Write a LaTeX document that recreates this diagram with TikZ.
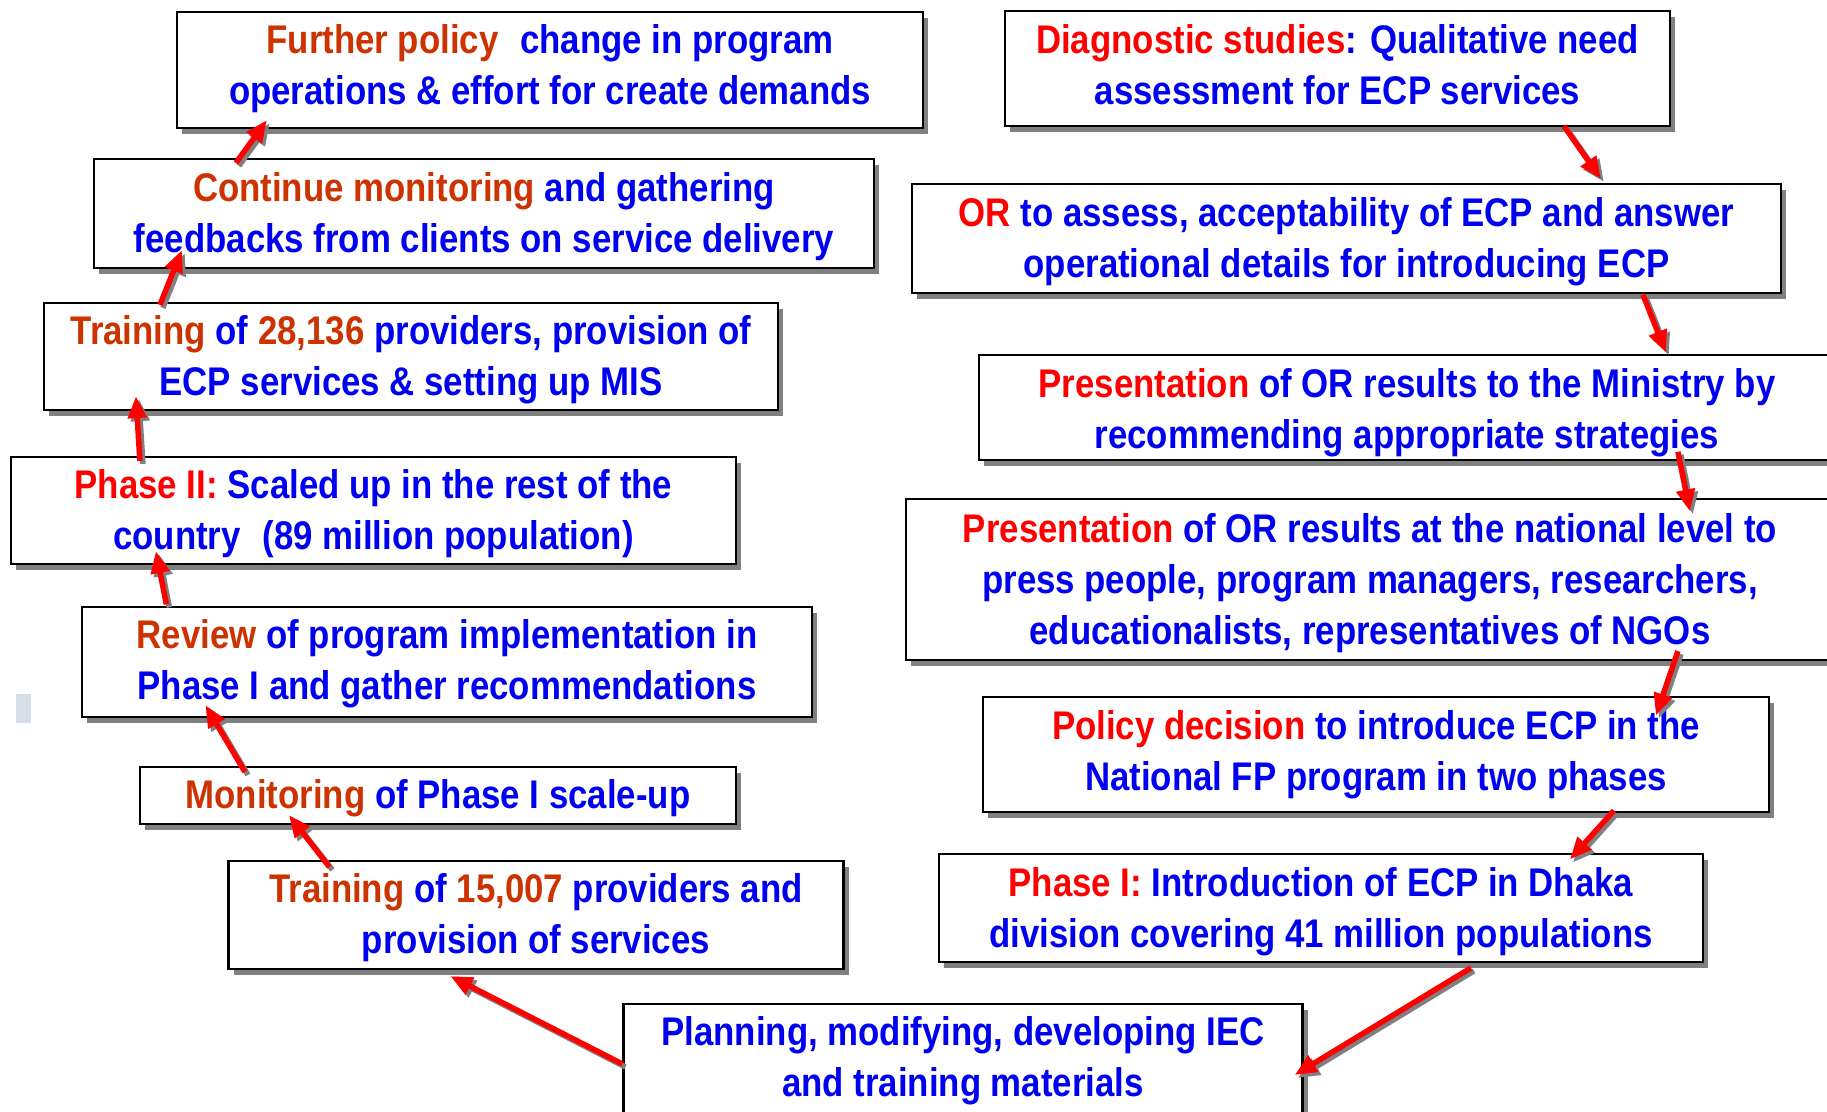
\documentclass[tikz,border=0pt]{standalone}
\usepackage{fontspec}
\setmainfont{Liberation Sans}[FakeStretch=0.87]
\usetikzlibrary{shadows,arrows.meta,calc}
\definecolor{orng}{RGB}{204,51,0}
\definecolor{rdd}{RGB}{255,0,0}
\definecolor{bl}{RGB}{0,0,240}
\definecolor{shad}{RGB}{128,128,128}
\definecolor{sqc}{RGB}{213,223,234}
\newcommand{\orn}[1]{\textcolor{orng}{#1}}
\newcommand{\rdt}[1]{\textcolor{rdd}{#1}}
\newcommand{\arro}[2]{\draw[arrsh] #1 -- #2; \draw[arr] #1 -- #2;}
% name, cx, cy, width, height, text offset, text
\newcommand{\bx}[7]{%
  \node[box, minimum width=#4pt, minimum height=#5pt] (#1) at (#2,#3) {};
  \node[txt] (#1t) at ($(#1)+(0,#6)$) {#7};}
\begin{document}
\begin{tikzpicture}[x=1pt,y=-1pt,
 box/.style={draw=black, line width=2.2pt, fill=white, inner sep=0pt,
   drop shadow={shadow xshift=5pt, shadow yshift=-6pt, fill=shad, opacity=1}},
 txt/.style={text=bl, align=center, inner sep=0pt,
   font=\bfseries\fontsize{40}{51}\selectfont},
 arr/.style={draw=rdd, line width=5.5pt, -{Triangle[length=22pt,width=18pt]}},
 arrsh/.style={draw=shad, line width=5.5pt, -{Triangle[length=22pt,width=18pt]},
   transform canvas={xshift=3pt,yshift=-3pt}}]
\useasboundingbox[fill=white] (0,0) rectangle (1827,1111);
\fill[sqc] (16,694) rectangle (31,723);
% left column
\bx{A}{550}{70}{746}{116}{-1}
 {\orn{Further policy}\hspace{0.3em} change in program\\operations \& effort for create demands}
\bx{B}{484}{213.5}{780}{109}{3}
 {\orn{Continue monitoring} and gathering\\feedbacks from clients on service delivery}
\bx{C}{411}{356.5}{734}{107}{3.5}
 {\orn{Training} of \orn{28,136} providers, provision of\\ECP services \& setting up MIS}
\bx{D}{373.5}{510.5}{725}{107}{3.5}
 {\rdt{Phase II:} Scaled up in the rest of the\\country\hspace{0.3em} (89 million population)}
\bx{E}{447}{662}{730}{110}{1.7}
 {\orn{Review} of program implementation in\\Phase I and gather recommendations}
\bx{F}{438}{795.5}{596}{57}{2.3}
 {\orn{Monitoring} of Phase I scale-up}
\bx{G}{536}{915}{615}{108}{3}
 {\orn{Training} of \orn{15,007} providers and\\provision of services}
\bx{H}{963}{1059}{679}{110}{1.7}
 {Planning, modifying, developing IEC\\and training materials}
% right column
\bx{I}{1337.5}{68.5}{665}{115}{-4}
 {\rdt{Diagnostic studies}: Qualitative need\\assessment for ECP services}
\bx{J}{1346.5}{238.5}{869}{109}{3}
 {\rdt{OR} to assess, acceptability of ECP and answer\\operational details for introducing ECP}
\bx{K}{1407}{407.5}{856}{105}{5}
 {\rdt{Presentation} of OR results to the Ministry by\\recommending appropriate strategies}
\bx{L}{1370}{579.5}{928}{161}{3.5}
 {\rdt{Presentation} of OR results at the national level to\\press people, program managers, researchers,\\educationalists, representatives of NGOs}
\bx{M}{1376}{754.5}{786}{115}{0}
 {\rdt{Policy decision} to introduce ECP in the\\National FP program in two phases}
\bx{N}{1321}{908}{764}{108}{4}
 {\rdt{Phase I:} Introduction of ECP in Dhaka\\division covering 41 million populations}
% arrows
\arro{($(B.north west)+(143,5)$)}{($(A.south west)+(91,-9)$)}
\arro{($(C.north west)+(117,3)$)}{($(B.south west)+(89,-19)$)}
\arro{($(D.north west)+(130,5)$)}{($(C.south west)+(93,-15)$)}
\arro{($(E.north west)+(85.5,-1.5)$)}{($(D.south west)+(146,-14)$)}
\arro{($(F.north west)+(106,6)$)}{($(E.south west)+(124.5,-13)$)}
\arro{($(G.north west)+(102,7)$)}{($(F.south west)+(150,-10)$)}
\arro{($(H.west)+(0,5)$)}{($(G.south west)+(223,6)$)}
\arro{($(I.south west)+(560,-1)$)}{($(J.north west)+(690,-4)$)}
\arro{($(J.south west)+(732,0.6)$)}{($(K.north west)+(688,-1.4)$)}
\arro{($(K.south west)+(700,-9.3)$)}{($(L.north west)+(785,13.5)$)}
\arro{($(L.south west)+(773,-10)$)}{($(M.north west)+(674,19.6)$)}
\arro{($(M.south west)+(632,-2.5)$)}{($(N.north west)+(632,6.5)$)}
\arro{($(N.south west)+(533,4.8)$)}{($(H.east)+(-9,16)$)}
\end{tikzpicture}
\end{document}
